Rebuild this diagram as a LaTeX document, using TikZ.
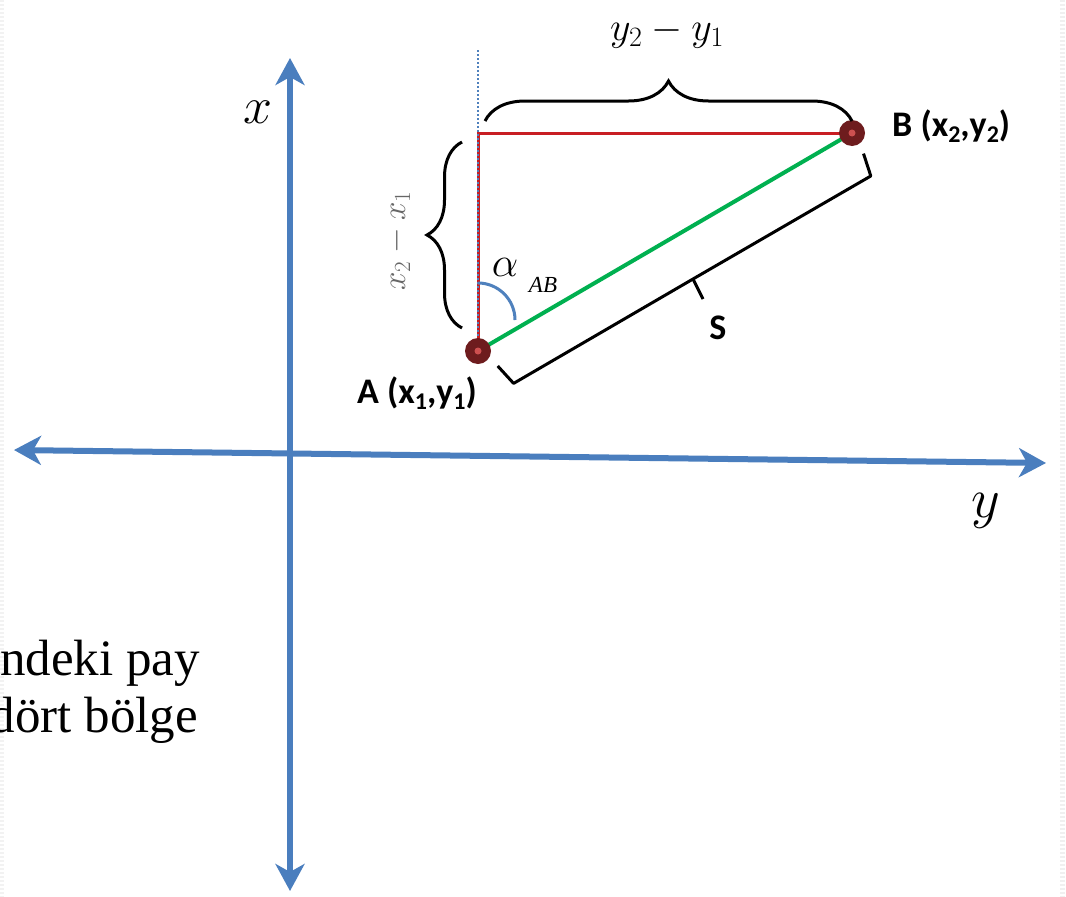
\RequirePackage{fix-cm}
\documentclass[tikz,border=0pt]{standalone}
\usepackage{fontspec}
\setmainfont{Liberation Serif}
\newfontfamily\lblfont{Carlito}
\usetikzlibrary{decorations.pathreplacing,arrows.meta}
\definecolor{axisblue}{RGB}{74,126,190}
\definecolor{ptred}{RGB}{110,28,30}
\definecolor{ptin}{RGB}{205,80,80}
\definecolor{redln}{RGB}{200,30,35}
\definecolor{greenln}{RGB}{0,176,80}
\definecolor{dotblue}{RGB}{79,129,189}
\tikzset{
  axis/.style={draw=axisblue, line width=6pt, {Stealth[length=27pt,width=29pt,inset=8pt]}-{Stealth[length=27pt,width=29pt,inset=8pt]}},
  pt/.style={circle, fill=ptred, minimum size=26pt, inner sep=0pt,
    path picture={\fill[ptin] (path picture bounding box.center) circle (3.5pt);}},
  redseg/.style={draw=redln, line width=3pt},
  greenseg/.style={draw=greenln, line width=4pt},
  dotseg/.style={draw=dotblue, line width=2pt, dash pattern=on 2pt off 2pt},
  curly/.style={draw=black, line width=3pt, decorate, decoration={brace, amplitude=#1}},
  bracket/.style={draw=black, line width=3pt, line join=round},
  lbl/.style={font=\lblfont\bfseries\fontsize{36}{36}\selectfont, inner sep=0pt, text=black},
  mathlbl/.style={inner sep=0pt, text=black},
  bodytext/.style={font=\fontsize{51}{57}\selectfont, inner sep=0pt, text=black}
}
\begin{document}
\begin{tikzpicture}[x=1pt,y=-1pt]
\useasboundingbox (0,0) rectangle (1066,897);
\clip (0,0) rectangle (1066,897);
\fill[white] (0,0) rectangle (1066,897);
% faint page edge texture
\draw[gray!12, line width=5pt, dash pattern=on 2pt off 2pt] (1062,0) -- (1062,897);
\draw[gray!10, line width=4pt, dash pattern=on 2pt off 2pt] (2,0) -- (2,897);

% axes
\coordinate (xt) at (290,58);
\coordinate (xb) at (290,891);
\coordinate (yl) at (14,450);
\coordinate (yr) at (1046,463);
\draw[axis] (xb) -- (xt);
\draw[axis] (yl) -- (yr);
\node[mathlbl, font=\fontsize{52}{52}\selectfont] (xlab) at (258,112) {$x$};
\node[mathlbl, font=\fontsize{56}{56}\selectfont] (ylab) at (986,511) {$y$};

% key points
\coordinate (Ac) at (478,351);
\coordinate (Bc) at (852,133);
\coordinate (C) at (478,133);
\coordinate (Top) at (478,50);

\draw[redseg] (Ac) -- (C) -- (Bc);
\draw[dotseg] (Top) -- (Ac);
\draw[greenseg] (Ac) -- (Bc);

% angle arc
\coordinate (arcS) at (478,283);
\coordinate (arcE) at (515,320);
\draw[draw=dotblue, line width=3pt] (arcS) .. controls (498.4,283) and (515,299.6) .. (arcE);

\node[pt] (A) at (Ac) {};
\node[pt] (B) at (Bc) {};

% braces
\coordinate (tb1) at (485,121);
\coordinate (tb2) at (852,121);
\draw[curly=40pt] (tb1) -- (tb2);
\coordinate (lb1) at (462,328);
\coordinate (lb2) at (462,142);
\draw[curly=35pt] (lb1) -- (lb2);

% S bracket
\coordinate (e1) at (497.7,366);
\coordinate (c1) at (513.6,383.4);
\coordinate (ap) at (693,279);
\coordinate (tip) at (703,299);
\coordinate (c2) at (870.8,176);
\coordinate (e2) at (863.5,153.6);
\draw[bracket] (e1) -- (c1) -- (ap) -- (c2) -- (e2);
\draw[bracket] (ap) -- (tip);

% labels
\node[mathlbl, font=\fontsize{40}{40}\selectfont] (dy) at (667,33) {$y_2 - y_1$};
\node[mathlbl, text=black!60, font=\fontsize{33}{33}\selectfont, rotate=90] (dx) at (398,241) {$x_2 - x_1$};
\node[mathlbl, font=\fontsize{42}{42}\selectfont] (alpha) at (505,267) {$\alpha$};
\node[mathlbl, font=\fontsize{23}{23}\selectfont\itshape] (ab) at (543,285) {AB};

\node[lbl, anchor=base east] (Alab) at (477,403) {A (x\raisebox{-0.18em}{\fontsize{24}{24}\selectfont 1},y\raisebox{-0.18em}{\fontsize{24}{24}\selectfont 1})};
\node[lbl, anchor=base west] (Blab) at (892,136) {B (x\raisebox{-0.18em}{\fontsize{24}{24}\selectfont 2},y\raisebox{-0.18em}{\fontsize{24}{24}\selectfont 2})};
\node[lbl] (Slab) at (718,328) {S};

% cut-off body text
\node[bodytext, anchor=base east] (t1) at (200,675) {ndeki pay};
\node[bodytext, anchor=base east] (t2) at (198,732) {dört bölge};
\end{tikzpicture}
\end{document}
